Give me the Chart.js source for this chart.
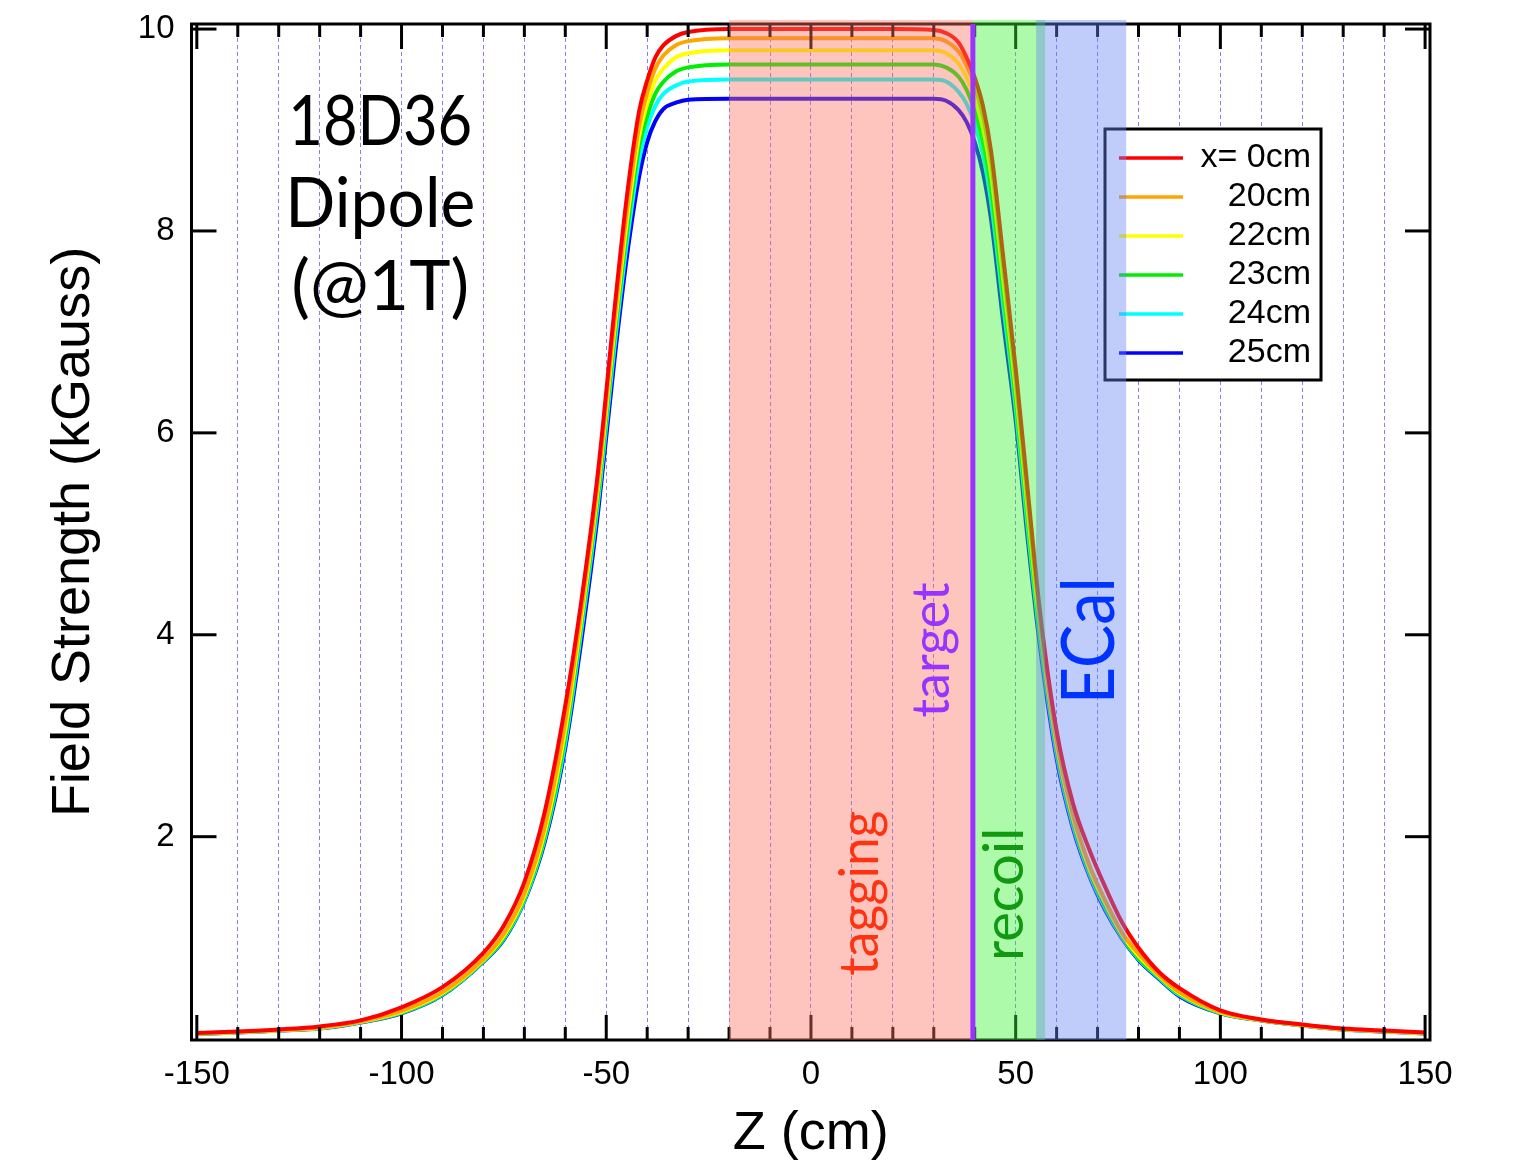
<!DOCTYPE html>
<html>
<head>
<meta charset="utf-8">
<script src="https://cdn.jsdelivr.net/npm/chart.js@4.4.0/dist/chart.umd.min.js"></script>
<style>
  html, body { margin: 0; padding: 0; background: #fff; }
</style>
</head>
<body>
<canvas id="field-chart" width="1517" height="1168"></canvas>
<script>
const zValues = [-150, -140, -130, -120, -110, -100, -90, -80,
    -75, -70, -65, -60, -56, -52, -48, -45, -42, -40, -38, -36, -33, -30,
    -20, -10, 0, 10, 20, 30,
    33, 36, 38, 40, 42, 44, 47, 50, 53, 56, 60, 64, 68, 72, 76, 80,
    85, 90, 100, 110, 120, 130, 140, 150];

// field strength (kGauss) for each transverse offset
const fieldX0 = [0.055, 0.07, 0.09, 0.12, 0.18, 0.31, 0.51, 0.85,
    1.12, 1.55, 2.25, 3.3, 4.36, 5.62, 7.22, 8.33, 9.18, 9.49, 9.72, 9.84, 9.93, 9.97,
    10.0, 10.0, 10.0, 10.0, 10.0, 9.99,
    9.96, 9.87, 9.72, 9.52, 9.24, 8.79, 7.73, 6.64, 5.41, 4.21, 3.05, 2.33, 1.87, 1.49, 1.15, 0.9,
    0.66, 0.5, 0.28, 0.19, 0.14, 0.1, 0.08, 0.06];
const fieldX20 = [0.05, 0.065, 0.085, 0.11, 0.17, 0.275, 0.46, 0.79,
    1.04, 1.44, 2.1, 3.14, 4.26, 5.52, 7.1, 8.18, 9.03, 9.37, 9.61, 9.74, 9.84, 9.88,
    9.91, 9.91, 9.91, 9.91, 9.91, 9.91,
    9.88, 9.78, 9.64, 9.44, 9.14, 8.69, 7.63, 6.54, 5.31, 4.13, 2.96, 2.22, 1.72, 1.36, 1.05, 0.84,
    0.63, 0.46, 0.265, 0.185, 0.135, 0.095, 0.075, 0.055];
const fieldX22 = [0.05, 0.063, 0.083, 0.106, 0.166, 0.265, 0.45, 0.78,
    1.02, 1.41, 2.05, 3.06, 4.19, 5.46, 7.02, 8.08, 8.93, 9.26, 9.49, 9.61, 9.72, 9.76,
    9.79, 9.79, 9.79, 9.79, 9.79, 9.79,
    9.76, 9.66, 9.52, 9.32, 9.02, 8.56, 7.5, 6.44, 5.21, 4.06, 2.91, 2.18, 1.68, 1.33, 1.03, 0.82,
    0.62, 0.45, 0.26, 0.183, 0.133, 0.093, 0.073, 0.053];
const fieldX23 = [0.048, 0.062, 0.082, 0.104, 0.164, 0.26, 0.44, 0.77,
    1.0, 1.39, 2.01, 2.99, 4.13, 5.39, 6.94, 7.98, 8.83, 9.14, 9.36, 9.48, 9.58, 9.62,
    9.65, 9.65, 9.65, 9.65, 9.65, 9.65,
    9.62, 9.53, 9.4, 9.19, 8.89, 8.42, 7.38, 6.34, 5.13, 4.0, 2.86, 2.14, 1.65, 1.3, 1.01, 0.8,
    0.61, 0.44, 0.255, 0.182, 0.132, 0.092, 0.072, 0.052];
const fieldX24 = [0.046, 0.061, 0.081, 0.102, 0.162, 0.255, 0.435, 0.765,
    0.99, 1.37, 1.98, 2.93, 4.06, 5.31, 6.84, 7.87, 8.7, 9.03, 9.24, 9.36, 9.44, 9.48,
    9.5, 9.5, 9.5, 9.5, 9.5, 9.5,
    9.48, 9.38, 9.26, 9.06, 8.76, 8.28, 7.25, 6.24, 5.03, 3.94, 2.82, 2.11, 1.63, 1.28, 1.0, 0.79,
    0.6, 0.43, 0.252, 0.181, 0.131, 0.091, 0.071, 0.051];
const fieldX25 = [0.045, 0.06, 0.08, 0.1, 0.16, 0.25, 0.43, 0.76,
    0.98, 1.36, 1.95, 2.88, 3.96, 5.21, 6.72, 7.73, 8.53, 8.88, 9.09, 9.21, 9.27, 9.30,
    9.31, 9.31, 9.31, 9.31, 9.31, 9.31,
    9.29, 9.2, 9.08, 8.88, 8.58, 8.11, 7.08, 6.12, 4.92, 3.86, 2.77, 2.08, 1.61, 1.26, 0.99, 0.78,
    0.59, 0.42, 0.25, 0.18, 0.13, 0.09, 0.07, 0.05];

const seriesLabels = ['x= 0cm', '20cm', '22cm', '23cm', '24cm', '25cm'];
const seriesColors = ['#ff0000', '#ffa500', '#ffff00', '#00ee00', '#00ffff', '#0000ff'];
const seriesValues = [fieldX0, fieldX20, fieldX22, fieldX23, fieldX24, fieldX25];

// detector regions along z (cm)
const regionNames = ['tagging', 'recoil', 'ECal'];
const regionStart = [-20, 39.5, 55];
const regionEnd = [39.5, 57.2, 77];
const targetZ = 39.55;

const xTickStep = 10;
const yTickStep = 2;

const regionFill = ['rgba(249,115,95,0.41)', 'rgba(55,243,48,0.41)', 'rgba(101,131,243,0.41)'];

const datasets = seriesValues.map((vals, i) => ({
    label: seriesLabels[i],
    data: zValues.map((z, j) => ({ x: z, y: vals[j] })),
    borderColor: seriesColors[i],
    borderWidth: 4,
    pointRadius: 0,
    cubicInterpolationMode: 'monotone',
    fill: false,
}));

function strokeLine(ctx, x1, y1, x2, y2) {
    ctx.beginPath();
    ctx.moveTo(x1, y1);
    ctx.lineTo(x2, y2);
    ctx.stroke();
}

function drawText(ctx, text, x, y, font, color, angle, maxW) {
    ctx.save();
    ctx.translate(x, y);
    ctx.rotate(angle);
    ctx.font = font;
    ctx.fillStyle = color;
    ctx.textAlign = 'center';
    ctx.textBaseline = 'middle';
    ctx.fillText(text, 0, 0, maxW);
    ctx.restore();
}

const overlayPlugin = {
    id: 'overlay',
    afterDatasetsDraw(chart) {
        const ctx = chart.ctx;
        const xs = chart.scales.x;
        const ys = chart.scales.y;
        const area = chart.chartArea;
        ctx.save();

        // frame
        ctx.strokeStyle = '#000';
        ctx.lineWidth = 3;
        ctx.strokeRect(area.left, area.top, area.right - area.left, area.bottom - area.top);

        // inward ticks on all four sides
        for (const t of xs.ticks) {
            const px = xs.getPixelForValue(t.value);
            const len = Math.round(t.value) % 50 === 0 ? 25 : 13;
            strokeLine(ctx, px, area.bottom, px, area.bottom - len);
            strokeLine(ctx, px, area.top, px, area.top + len);
        }
        for (const t of ys.ticks) {
            if (t.value <= 0) continue;
            const py = ys.getPixelForValue(t.value);
            strokeLine(ctx, area.left, py, area.left + 25, py);
            strokeLine(ctx, area.right, py, area.right - 25, py);
        }

        // legend
        ctx.fillStyle = '#fff';
        ctx.fillRect(1105, 129, 216, 251);
        ctx.strokeRect(1105, 129, 216, 251);
        ctx.font = "34px 'Liberation Sans', Arial, sans-serif";
        ctx.textAlign = 'right';
        ctx.textBaseline = 'middle';
        seriesLabels.forEach((label, i) => {
            const y = 158 + i * 39;
            ctx.strokeStyle = seriesColors[i];
            ctx.lineWidth = 3.5;
            strokeLine(ctx, 1119, y, 1183, y);
            ctx.fillStyle = '#000';
            ctx.fillText(label, 1311, y);
        });

        // shaded detector regions
        const yTop = ys.getPixelForValue(10.09);
        const yBottom = area.bottom;
        regionNames.forEach((name, i) => {
            const x0 = xs.getPixelForValue(regionStart[i]);
            const x1 = xs.getPixelForValue(regionEnd[i]);
            ctx.fillStyle = regionFill[i];
            ctx.fillRect(x0, yTop, x1 - x0, yBottom - yTop);
        });

        // target line
        ctx.strokeStyle = '#9933ff';
        ctx.lineWidth = 5;
        const tx = xs.getPixelForValue(targetZ);
        strokeLine(ctx, tx, area.top, tx, area.bottom);

        // labels
        const up = -Math.PI / 2;
        drawText(ctx, 'tagging', xs.getPixelForValue(12.0), ys.getPixelForValue(1.44), "54px Lato", '#ff3311', up, 165);
        drawText(ctx, 'target', xs.getPixelForValue(29.6), ys.getPixelForValue(3.85), "52px Lato", '#9933ff', up, 144);
        drawText(ctx, 'recoil', xs.getPixelForValue(47.4), ys.getPixelForValue(1.43), "56px Lato", '#119911', up, 136);
        drawText(ctx, 'ECal', xs.getPixelForValue(68.2), ys.getPixelForValue(3.94), "74px Lato", '#0033ff', up, 127);

        // magnet name
        ctx.fillStyle = '#000';
        ctx.font = "70px Lato";
        ctx.textAlign = 'center';
        ctx.textBaseline = 'alphabetic';
        const cx = xs.getPixelForValue(-105.2);
        ctx.fillText('18D36', cx, ys.getPixelForValue(8.85), 184);
        ctx.fillText('Dipole', cx, ys.getPixelForValue(8.04), 190);
        ctx.fillText('(@1T)', cx, ys.getPixelForValue(7.22), 192);

        ctx.restore();
    }
};

Chart.defaults.font.family = "'Liberation Sans', Arial, sans-serif";
Chart.defaults.color = '#000';

new Chart(document.getElementById('field-chart'), {
    type: 'line',
    data: { datasets: datasets },
    options: {
        responsive: false,
        animation: false,
        devicePixelRatio: 1,
        layout: { padding: { left: 0, top: 24, right: 87, bottom: 0 } },
        plugins: {
            legend: { display: false },
            tooltip: { enabled: false },
        },
        scales: {
            x: {
                type: 'linear',
                min: -151.3,
                max: 151.2,
                afterFit(scale) {
                    scale.height = 128;
                    scale.paddingLeft = 0;
                    scale.paddingRight = 0;
                },
                ticks: {
                    stepSize: xTickStep,
                    includeBounds: false,
                    maxRotation: 0,
                    autoSkip: false,
                    padding: 15,
                    font: { size: 33 },
                    callback: v => (Math.round(v) % 50 === 0 ? String(Math.round(v)) : ''),
                },
                grid: {
                    drawTicks: false,
                    lineWidth: 1,
                    color: c => (c.tick && Math.abs(Math.round(c.tick.value)) === 150 ? 'rgba(0,0,0,0)' : '#8080ff'),
                },
                border: { display: false, dash: [4, 3] },
                title: {
                    display: true,
                    text: 'Z (cm)',
                    font: { size: 54 },
                    padding: { top: 0, bottom: 1 },
                },
            },
            y: {
                min: -0.014,
                max: 10.05,
                afterFit(scale) {
                    scale.width = 191.5;
                    scale.paddingTop = 0;
                    scale.paddingBottom = 0;
                },
                ticks: {
                    stepSize: yTickStep,
                    includeBounds: false,
                    padding: 17,
                    font: { size: 33 },
                    callback: v => (v === 0 ? '' : String(v)),
                },
                grid: { display: false, drawTicks: false },
                border: { display: false },
                title: {
                    display: true,
                    text: 'Field Strength (kGauss)',
                    font: { size: 54 },
                    padding: { top: 42, bottom: 0 },
                },
            },
        },
    },
    plugins: [overlayPlugin],
});
</script>
</body>
</html>
